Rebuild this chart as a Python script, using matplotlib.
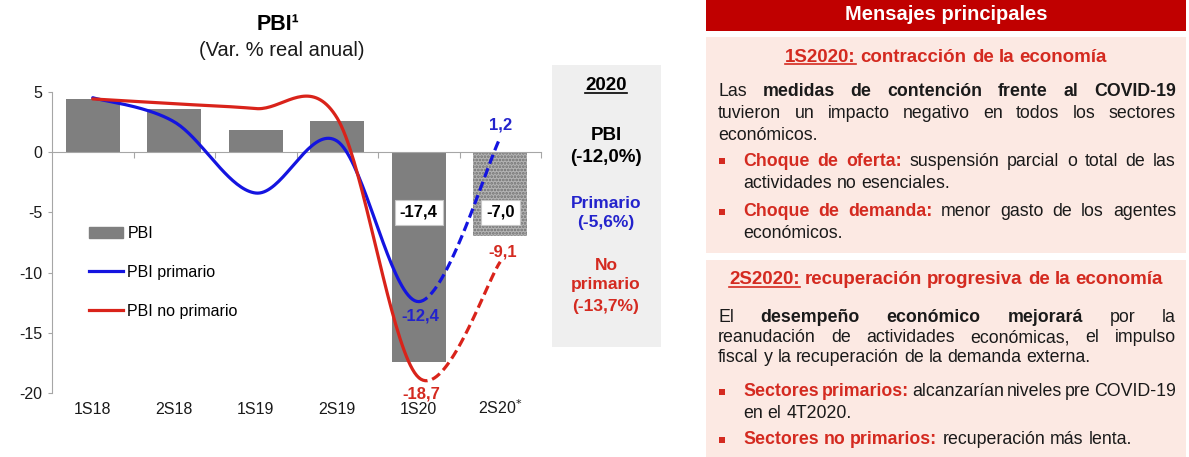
import numpy as np
import matplotlib.pyplot as plt
from matplotlib.transforms import IdentityTransform
from matplotlib.patches import Rectangle, Patch
from matplotlib.lines import Line2D

plt.rcParams['font.family'] = ['Liberation Sans', 'DejaVu Sans']
plt.rcParams['axes.unicode_minus'] = False
plt.rcParams['hatch.linewidth'] = 1.3

W, H = 1189, 457

# data
categories = ['1S18', '2S18', '1S19', '2S19', '1S20', '2S20$^{*}$']
pbi = [4.4, 3.6, 1.8, 2.6, -17.4, -7.0]
pbi_primario = [4.5, 2.5, -3.4, 0.9, -12.4, 1.2]
pbi_no_primario = [4.4, 4.0, 3.6, 2.8, -18.7, -9.1]
resumen_2020 = {'PBI': -12.0, 'Primario': -5.6, 'No primario': -13.7}

# right panel texts
header = 'Mensajes principales'
sec1_title = [('1S2020:', 'ru'), ('contracción de la economía', 'r')]
sec1_para = [
    ([('Las', 'n'), ('medidas de contención frente al COVID-19', 'b')], True),
    ([('tuvieron un impacto negativo en todos los sectores', 'n')], True),
    ([('económicos.', 'n')], False),
]
sec1_bullets = [
    [([('Choque de oferta:', 'r'), ('suspensión parcial o total de las', 'n')], True),
     ([('actividades no esenciales.', 'n')], False)],
    [([('Choque de demanda:', 'r'), ('menor gasto de los agentes', 'n')], True),
     ([('económicos.', 'n')], False)],
]
sec2_title = [('2S2020:', 'ru'), ('recuperación progresiva de la economía', 'r')]
sec2_para = [
    ([('El', 'n'), ('desempeño económico mejorará', 'b'), ('por la', 'n')], True),
    ([('reanudación de actividades económicas, el impulso', 'n')], True),
    ([('fiscal y la recuperación de la demanda externa.', 'n')], False),
]
sec2_bullets = [
    [([('Sectores primarios:', 'r'), ('alcanzarían niveles pre COVID-19', 'n')], True),
     ([('en el 4T2020.', 'n')], False)],
    [([('Sectores no primarios:', 'r'), ('recuperación más lenta.', 'n')], False)],
]

BLUE = '#1414e0'
RED = '#d9231a'
TXT_BLUE = '#2323cc'
TXT_RED = '#d42a20'
GRAY = '#7f7f7f'
AXC = '#a6a6a6'


def fmt(v):
    return f'{v:.1f}'.replace('.', ',')


def smooth(xs, ys, n=40):
    # excel-like smoothed line: cubic bezier through the points
    p = np.column_stack([xs, ys]).astype(float)
    t = np.linspace(0, 1, n)[:, None]
    segs = []
    for i in range(len(p) - 1):
        p0, p1 = p[max(i - 1, 0)], p[i]
        p2, p3 = p[i + 1], p[min(i + 2, len(p) - 1)]
        c1 = p1 + (p2 - p0) / 6
        c2 = p2 - (p3 - p1) / 6
        segs.append((1 - t) ** 3 * p1 + 3 * (1 - t) ** 2 * t * c1
                    + 3 * (1 - t) * t ** 2 * c2 + t ** 3 * p2)
    return segs


fig = plt.figure(figsize=(W / 100, H / 100), dpi=100)
ax = fig.add_axes([52 / W, 1 - 393.3 / H, (541 - 52) / W, (393.3 - 91.7) / H])
ax.set_xlim(-0.5, 5.5)
ax.set_ylim(-20, 5)

x = np.arange(len(categories))
ax.bar(x[:5], pbi[:5], width=0.66, color=GRAY, zorder=2)
ax.bar(x[5], pbi[5], width=0.66, color='#b4b4b4', hatch='.....',
       edgecolor='#707070', lw=0, zorder=2)

for vals, col in [(pbi_primario, BLUE), (pbi_no_primario, RED)]:
    segs = smooth(x, vals)
    solid = np.vstack(segs[:-1])
    ax.plot(solid[:, 0], solid[:, 1], color=col, lw=2.3, zorder=4,
            solid_capstyle='round')
    ax.plot(segs[-1][:, 0], segs[-1][:, 1], color=col, lw=2.3, zorder=4,
            ls=(0, (3, 1.5)))

# value labels
for i in (4, 5):
    ax.text(x[i], -5, fmt(pbi[i]), ha='center', va='center', fontsize=12,
            fontweight='bold', color='black', zorder=6,
            bbox=dict(boxstyle='square,pad=0.3', fc='white', ec='#c8c8c8', lw=0.8))
ax.annotate(fmt(pbi_primario[4]), (x[4], pbi_primario[4]), xytext=(2, -14),
            textcoords='offset pixels', ha='center', va='center', fontsize=12,
            fontweight='bold', color=TXT_BLUE, zorder=6)
ax.annotate(fmt(pbi_primario[5]), (x[5], pbi_primario[5]), xytext=(0, 13),
            textcoords='offset pixels', ha='center', va='center', fontsize=12,
            fontweight='bold', color=TXT_BLUE, zorder=6)
ax.annotate(fmt(pbi_no_primario[4]), (x[4], pbi_no_primario[4]), xytext=(3, -16),
            textcoords='offset pixels', ha='center', va='center', fontsize=12,
            fontweight='bold', color=TXT_RED, zorder=6)
ax.annotate(fmt(pbi_no_primario[5]), (x[5], pbi_no_primario[5]), xytext=(2, 10),
            textcoords='offset pixels', ha='center', va='center', fontsize=12,
            fontweight='bold', color=TXT_RED, zorder=6)

# axes styling
for s in ['top', 'right']:
    ax.spines[s].set_visible(False)
ax.spines['left'].set_color(AXC)
ax.spines['bottom'].set_color(AXC)
ax.spines['bottom'].set_position(('data', 0))
ax.spines['bottom'].set_zorder(3)
ax.set_yticks(range(-20, 6, 5))
ax.set_yticklabels([str(v) for v in range(-20, 6, 5)])
ax.tick_params(axis='y', colors=AXC, labelcolor='#1a1a1a', labelsize=11.5,
               length=3, width=0.8, pad=4)
ax.set_xticks(x)
ax.set_xticklabels([])
ax.tick_params(axis='x', which='major', length=0)
ax.set_xticks(list(x + 0.5), minor=True)
ax.tick_params(axis='x', which='minor', length=4, color=AXC, width=0.8)
for i, cat in enumerate(categories):
    ax.text(x[i], -0.068, cat, transform=ax.get_xaxis_transform(),
            ha='center', va='baseline', fontsize=11.5, color='#1a1a1a')

handles = [Patch(color=GRAY), Line2D([], [], color=BLUE, lw=2.3),
           Line2D([], [], color=RED, lw=2.3)]
ax.legend(handles, ['PBI', 'PBI primario', 'PBI no primario'], loc='upper left',
          bbox_to_anchor=(89 / W, 1 - 226 / H), bbox_transform=fig.transFigure,
          frameon=False, fontsize=11.5, handlelength=2.1, handletextpad=0.3,
          labelspacing=1.5, borderpad=0, borderaxespad=0)

fig.text(278 / W, 1 - 25 / H, 'PBI¹', ha='center', va='center', fontsize=15.5,
         fontweight='bold')
fig.text(282 / W, 1 - 50 / H, '(Var. % real anual)', ha='center', va='center',
         fontsize=14.5, color='#1a1a1a')

# 2020 summary box
ID = IdentityTransform()


def px(xp, yp):
    return xp, H - yp


fig.add_artist(Rectangle(px(552, 347), 109, 282, transform=ID, fc='#efefef',
                         ec='none', zorder=0))
t = fig.text(*px(606, 85), '2020', transform=ID, ha='center', va='center',
             fontsize=13.5, fontweight='bold')
renderer = fig.canvas.get_renderer()
bb = t.get_window_extent(renderer)
fig.add_artist(Line2D([bb.x0, bb.x1], [bb.y0 + 1, bb.y0 + 1], transform=ID,
                      color='black', lw=1.2))
summary = [('PBI', 135, 158, 'black', 13.5),
           ('Primario', 203, 223, TXT_BLUE, 12.5)]
for key, y1, y2, col, fs in summary:
    fig.text(*px(606, y1), key, transform=ID, ha='center', va='center',
             fontsize=fs, fontweight='bold', color=col)
    fig.text(*px(606, y2), f'({fmt(resumen_2020[key])}%)', transform=ID,
             ha='center', va='center', fontsize=fs, fontweight='bold', color=col)
for txt, yy in [('No', 265), ('primario', 285),
                (f'({fmt(resumen_2020["No primario"])}%)', 307)]:
    fig.text(*px(606, yy), txt, transform=ID, ha='center', va='center',
             fontsize=12.5, fontweight='bold', color=TXT_RED)

# right panel
fig.add_artist(Rectangle(px(706, 31), 480, 31, transform=ID, fc='#c00000',
                         ec='none', zorder=0))
fig.text(*px(946, 15), header, transform=ID, ha='center', va='center',
         fontsize=14.5, fontweight='bold', color='white')
fig.add_artist(Rectangle(px(706, 253), 480, 216, transform=ID, fc='#fce9e3',
                         ec='none', zorder=0))
fig.add_artist(Rectangle(px(706, 457), 480, 197, transform=ID, fc='#fce9e3',
                         ec='none', zorder=0))

STYLE = {'n': ('normal', '#1a1a1a'), 'b': ('bold', '#1a1a1a'),
         'r': ('bold', TXT_RED), 'ru': ('bold', TXT_RED)}


def put_line(parts, x0, x1, y, size, justify=False, center=None):
    words = []
    for text, st in parts:
        for w in text.split():
            words.append((w, st))
    arts, widths = [], []
    for w, st in words:
        weight, col = STYLE[st]
        a = fig.text(0, 0, w, transform=ID, fontsize=size, fontweight=weight,
                     color=col, ha='left', va='center')
        arts.append(a)
        widths.append(a.get_window_extent(renderer).width)
    space = size * 0.278 * 100 / 72
    if justify and len(words) > 1:
        gap = (x1 - x0 - sum(widths)) / (len(words) - 1)
    else:
        gap = space
    if center is not None:
        x0 = center - (sum(widths) + gap * (len(words) - 1)) / 2
    xx = x0
    for a, w, (word, st) in zip(arts, widths, words):
        a.set_position(px(xx, y))
        if st == 'ru':
            yl = H - y - size * 0.5
            fig.add_artist(Line2D([xx, xx + w], [yl, yl], transform=ID,
                                  color=TXT_RED, lw=1.2))
        xx += w + gap


def section(title, ty, para, pys, bullets, bys):
    put_line(title, 0, 0, ty, 13.5, center=946)
    for (parts, just), yy in zip(para, pys):
        put_line(parts, 718, 1176, yy, 12.8, justify=just)
    k = 0
    for b in bullets:
        for j, (parts, just) in enumerate(b):
            yy = bys[k]
            if j == 0:
                fig.add_artist(Rectangle((719, H - yy - 2.5), 5.5, 5.5,
                                         transform=ID, fc=TXT_RED, ec='none'))
            put_line(parts, 743, 1176, yy, 12.8, justify=just)
            k += 1


section(sec1_title, 57, sec1_para, [92, 113, 135], sec1_bullets,
        [161, 183, 212, 234])
section(sec2_title, 280, sec2_para, [317, 338, 358], sec2_bullets,
        [392, 413, 440])

fig.savefig('out.png', dpi=100)
